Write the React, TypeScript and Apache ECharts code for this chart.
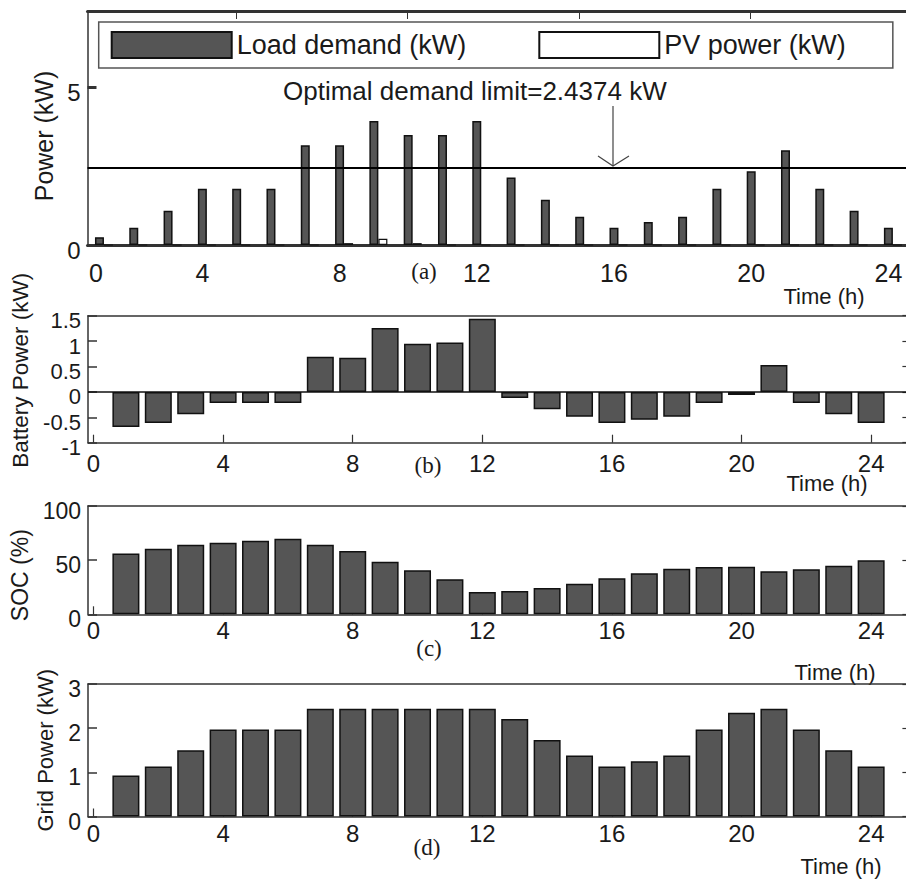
import React, { useEffect, useRef } from "react";
import * as echarts from "echarts";

// ---------- data ----------
const hours = [1, 2, 3, 4, 5, 6, 7, 8, 9, 10, 11, 12, 13, 14, 15, 16, 17, 18, 19, 20, 21, 22, 23, 24];
const loadDemand = [0.25, 0.55, 1.09, 1.79, 1.79, 1.79, 3.17, 3.17, 3.94, 3.49, 3.49, 3.94, 2.14, 1.44, 0.9, 0.55, 0.73, 0.9, 1.79, 2.34, 3.01, 1.79, 1.09, 0.55];
const pvPower = [0, 0, 0, 0, 0, 0, 0, 0.06, 0.2, 0.06, 0, 0, 0, 0, 0, 0, 0, 0, 0, 0, 0, 0, 0, 0];
const batteryPower = [-0.69, -0.61, -0.44, -0.22, -0.22, -0.22, 0.69, 0.67, 1.26, 0.95, 0.97, 1.44, -0.12, -0.34, -0.49, -0.61, -0.55, -0.49, -0.22, -0.06, 0.53, -0.22, -0.44, -0.61];
const soc = [56.1, 60.6, 64.2, 66.1, 67.9, 69.7, 64.2, 58.5, 48.5, 40.6, 32.4, 20.6, 21.5, 24.2, 28.2, 33.3, 37.9, 42.1, 43.6, 43.9, 39.7, 41.5, 44.8, 50.0];
const gridPower = [0.93, 1.13, 1.5, 1.97, 1.97, 1.97, 2.44, 2.44, 2.44, 2.44, 2.44, 2.44, 2.21, 1.73, 1.38, 1.13, 1.25, 1.38, 1.97, 2.35, 2.44, 1.97, 1.5, 1.13];
const demandLimit = 2.4374;

const hourTicks = [0, 4, 8, 12, 16, 20, 24];
const panelALabelAt = [0.77, 3.87, 7.87, 11.87, 15.87, 19.87, 23.87];
const panelATopTicks = [4.85, 9.85, 14.85, 19.85];
const powerTicks = [0, 5];
const batteryTicks = [-1, -0.5, 0, 0.5, 1, 1.5];
const socTicks = [0, 50, 100];
const gridTicks = [0, 1, 2, 3];

// ---------- style ----------
const FONT = "'Liberation Sans', Arial, sans-serif";
const SERIF = "'Liberation Serif', 'Times New Roman', serif";
const BAR = "#555555";
const AX = "#333333";
const TXT = "#1a1a1a";

const pairs = (vals: number[]) => hours.map((h, i) => [h, vals[i]]);

function bottomX(gridIndex: number, min: number, max: number, labelAt: number[], fontSize: number, margin: number, lineWidth: number, showTicks: boolean) {
  return {
    type: "value",
    gridIndex,
    position: "bottom",
    min,
    max,
    axisLine: { show: true, onZero: false, lineStyle: { color: AX, width: lineWidth } },
    axisTick: { show: showTicks, inside: true, length: 8, customValues: hourTicks, lineStyle: { color: AX, width: 1.2 } },
    axisLabel: {
      show: true,
      customValues: labelAt,
      margin,
      fontSize,
      fontFamily: FONT,
      color: TXT,
      formatter: (v: number) => String(Math.max(0, Math.round(v / 4) * 4)),
    },
    splitLine: { show: false },
  };
}

function topX(gridIndex: number, min: number, max: number, lineWidth: number, ticks: number[] | null) {
  return {
    type: "value",
    gridIndex,
    position: "top",
    min,
    max,
    axisLine: { show: true, onZero: false, lineStyle: { color: AX, width: lineWidth } },
    axisTick: ticks ? { show: true, inside: true, length: 8, customValues: ticks, lineStyle: { color: AX, width: 1 } } : { show: false },
    axisLabel: { show: false },
    splitLine: { show: false },
  };
}

function leftY(gridIndex: number, min: number, max: number, ticks: number[], name: string, nameGap: number, nameSize: number, labelSize: number, namePad: number[], tickWidth: number) {
  return {
    type: "value",
    gridIndex,
    position: "left",
    min,
    max,
    name,
    nameLocation: "middle",
    nameRotate: 90,
    nameGap,
    nameTextStyle: { fontSize: nameSize, fontFamily: FONT, color: TXT, padding: namePad },
    axisLine: { show: true, onZero: false, lineStyle: { color: AX, width: 1.5 } },
    axisTick: { show: true, inside: true, length: 9, customValues: ticks, lineStyle: { color: AX, width: tickWidth } },
    axisLabel: {
      show: true,
      customValues: ticks,
      margin: 7,
      verticalAlign: "top",
      lineHeight: 10,
      fontSize: labelSize,
      fontFamily: FONT,
      color: TXT,
    },
    splitLine: { show: false },
  };
}

function rightY(gridIndex: number, min: number, max: number, ticks: number[]) {
  return {
    type: "value",
    gridIndex,
    position: "right",
    min,
    max,
    axisLine: { show: true, onZero: false, lineStyle: { color: AX, width: 1.5 } },
    axisTick: { show: true, inside: true, length: 6, customValues: ticks, lineStyle: { color: AX, width: 1.2 } },
    axisLabel: { show: false },
    splitLine: { show: false },
  };
}

const timeLabel = (x: number, y: number) => ({
  type: "text",
  x,
  y,
  style: { text: "Time (h)", font: `22px ${FONT}`, fill: TXT, align: "center", verticalAlign: "middle" },
});
const panelTag = (t: string, x: number, y: number) => ({
  type: "text",
  x,
  y,
  style: { text: t, font: `23px ${SERIF}`, fill: TXT, align: "center", verticalAlign: "middle" },
});

export default function App() {
  const ref = useRef<HTMLDivElement>(null);
  useEffect(() => {
    if (!ref.current) return;
    const chart = echarts.init(ref.current, undefined, { renderer: "svg" });
    const xMinA = 0.52, xMaxA = 25;
    const xMin = -0.17, xMax = 25.15;
    const option: any = {
      animation: false,
      backgroundColor: "#ffffff",
      textStyle: { fontFamily: FONT },
      grid: [
        { left: 87.5, top: 11, width: 839.7, height: 234 },
        { left: 88, top: 315.7, width: 820.4, height: 127 },
        { left: 88, top: 506, width: 820.4, height: 108.3 },
        { left: 88, top: 684, width: 820.4, height: 132.5 },
      ],
      xAxis: [
        bottomX(0, xMinA, xMaxA, panelALabelAt, 25, 15, 3, false),
        topX(0, xMinA, xMaxA, 3, panelATopTicks),
        bottomX(1, xMin, xMax, hourTicks, 24, 9, 1.5, true),
        topX(1, xMin, xMax, 1.5, null),
        bottomX(2, xMin, xMax, hourTicks, 24, 4, 1.5, true),
        topX(2, xMin, xMax, 1.5, null),
        bottomX(3, xMin, xMax, hourTicks, 24, 5, 1.5, true),
        topX(3, xMin, xMax, 1.5, null),
      ],
      yAxis: [
        leftY(0, 0, 7.43, powerTicks, "Power (kW)", 29, 25, 24, [0, 16, 0, 0], 3),
        leftY(1, -1, 1.5, batteryTicks, "Battery Power (kW)", 54, 22.5, 22, [0, 0, 0, 18], 1.5),
        rightY(1, -1, 1.5, batteryTicks),
        leftY(2, 0, 100, socTicks, "SOC (%)", 50, 23, 23, [0, 30, 0, 0], 1.5),
        rightY(2, 0, 100, socTicks),
        leftY(3, 0, 3, gridTicks, "Grid Power (kW)", 32, 22, 23, [0, 0, 0, 0], 1.5),
        rightY(3, 0, 3, gridTicks),
      ],
      legend: {
        data: ["Load demand (kW)", "PV power (kW)"],
        left: 98.7,
        top: 22,
        orient: "horizontal",
        icon: "rect",
        itemWidth: 120,
        itemHeight: 26,
        itemGap: 72,
        padding: [9, 47, 9, 12],
        borderColor: "#555",
        borderWidth: 1.5,
        borderRadius: 0,
        backgroundColor: "#ffffff",
        textStyle: { fontSize: 27, fontFamily: FONT, color: TXT },
        selectedMode: false,
      },
      series: [
        {
          name: "Load demand (kW)",
          type: "bar",
          xAxisIndex: 0,
          yAxisIndex: 0,
          barWidth: 9,
          barGap: "0%",
          data: pairs(loadDemand),
          itemStyle: { color: BAR, borderColor: "#111", borderWidth: 1.5 },
          markLine: {
            silent: true,
            symbol: ["none", "none"],
            label: { show: false },
            lineStyle: { color: "#000", width: 2, type: "solid" },
            data: [{ yAxis: demandLimit }],
          },
        },
        {
          name: "PV power (kW)",
          type: "bar",
          xAxisIndex: 0,
          yAxisIndex: 0,
          barWidth: 9,
          barGap: "0%",
          data: pairs(pvPower),
          itemStyle: { color: "#ffffff", borderColor: "#111", borderWidth: 1.2 },
        },
        {
          name: "Battery power",
          type: "bar",
          xAxisIndex: 2,
          yAxisIndex: 1,
          barWidth: 27,
          data: pairs(batteryPower),
          itemStyle: { color: BAR, borderColor: "#111", borderWidth: 1.5 },
          markLine: {
            silent: true,
            symbol: ["none", "none"],
            label: { show: false },
            lineStyle: { color: "#111", width: 1.5, type: "solid" },
            data: [{ yAxis: 0 }],
          },
        },
        {
          name: "SOC",
          type: "bar",
          xAxisIndex: 4,
          yAxisIndex: 3,
          barWidth: 27,
          data: pairs(soc),
          itemStyle: { color: BAR, borderColor: "#111", borderWidth: 1.5 },
        },
        {
          name: "Grid power",
          type: "bar",
          xAxisIndex: 6,
          yAxisIndex: 5,
          barWidth: 27,
          data: pairs(gridPower),
          itemStyle: { color: BAR, borderColor: "#111", borderWidth: 1.5 },
        },
      ],
      graphic: [
        {
          type: "text",
          x: 283,
          y: 91,
          style: { text: "Optimal demand limit=2.4374 kW", font: `26px ${FONT}`, fill: TXT, align: "left", verticalAlign: "middle" },
        },
        { type: "line", shape: { x1: 613, y1: 106, x2: 613, y2: 166 }, style: { stroke: "#444", lineWidth: 1.2 } },
        { type: "polyline", shape: { points: [[598, 156], [613, 166], [629, 156]] }, style: { stroke: "#444", lineWidth: 1.2, fill: "none" } },
        panelTag("(a)", 424, 271),
        panelTag("(b)", 428, 465),
        panelTag("(c)", 429, 648),
        panelTag("(d)", 427, 847),
        timeLabel(824, 296),
        timeLabel(827, 483),
        timeLabel(835, 672),
        timeLabel(841, 866),
      ],
    };
    chart.setOption(option);
    return () => chart.dispose();
  }, []);
  return (
    <div style={{ position: "absolute", left: 0, top: 0, width: 906, height: 880, overflow: "hidden", background: "#fff" }}>
      <div ref={ref} style={{ width: 940, height: 880 }} />
    </div>
  );
}
